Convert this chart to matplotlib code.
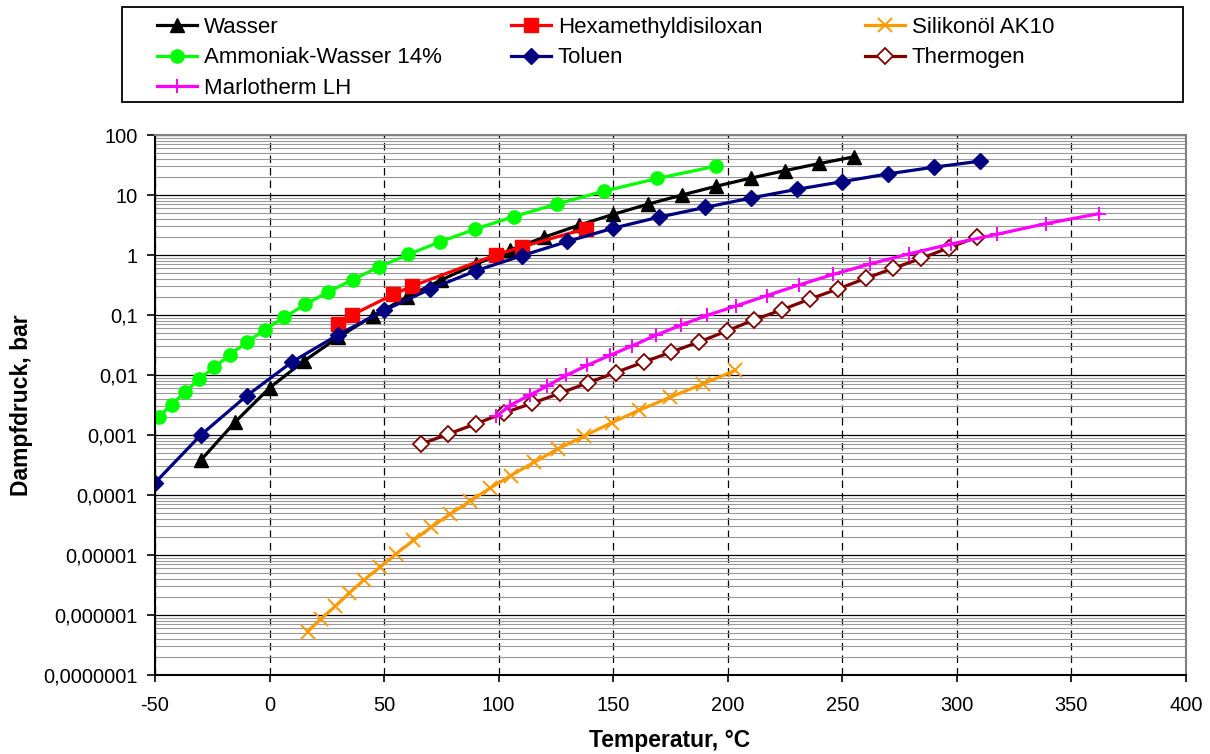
import matplotlib
matplotlib.use("Agg")
from matplotlib import pyplot as plt
from matplotlib.patches import Rectangle
import matplotlib.ticker as ticker

plt.rcParams['font.family'] = ['Liberation Sans', 'DejaVu Sans']
plt.rcParams['axes.unicode_minus'] = False

# vapour pressure data, T in degC, p in bar
wasser_T = [-30, -15, 0, 15, 30, 45, 60, 75, 90, 105, 120, 135, 150, 165, 180, 195, 210, 225, 240, 255]
wasser_p = [0.00038, 0.00165, 0.0061, 0.0171, 0.0425, 0.0959, 0.1995, 0.386, 0.702, 1.21,
            1.99, 3.13, 4.76, 7.0, 10.0, 14.0, 19.1, 25.5, 33.5, 43.2]

hexa_T = [30, 36, 54, 62, 99, 110, 138]
hexa_p = [0.070, 0.10, 0.22, 0.30, 1.01, 1.36, 2.75]

silikon_T = [16.6, 22.4, 28.7, 34.8, 41.4, 48.3, 55.2, 62.8, 70.6, 78.6, 87.3, 96.1, 105.2,
             115.5, 126, 137.3, 149.3, 161.4, 174.8, 189.1, 203.1]
silikon_p = [5.3e-7, 8.6e-7, 1.4e-6, 2.33e-6, 3.9e-6, 6.3e-6, 1.05e-5, 1.75e-5, 2.92e-5, 4.75e-5,
             7.8e-5, 1.29e-4, 2.1e-4, 3.52e-4, 5.9e-4, 9.6e-4, 1.6e-3, 2.6e-3, 4.25e-3, 7.1e-3, 0.0119]

ammoniak_T = [-48.3, -42.7, -36.9, -30.8, -24.1, -17.3, -9.9, -1.9, 6.4, 15.6, 25.5, 36.3, 47.8,
              60.6, 74.4, 89.8, 106.6, 125.4, 146, 169.3, 195]
ammoniak_p = [0.00203, 0.00322, 0.00518, 0.00855, 0.0134, 0.0218, 0.0356, 0.0573, 0.092, 0.150,
              0.241, 0.388, 0.635, 1.02, 1.66, 2.70, 4.37, 7.08, 11.6, 18.9, 30.3]

toluen_T = [-50, -30, -10, 10, 30, 50, 70, 90, 110, 130, 150, 170, 190, 210, 230, 250, 270, 290, 310]
toluen_p = [1.6e-4, 0.00100, 0.0045, 0.0167, 0.047, 0.119, 0.27, 0.545, 0.97, 1.68, 2.80, 4.28,
            6.2, 8.9, 12.4, 16.7, 22.5, 29.1, 36.6]

thermogen_T = [65.9, 78.1, 90.3, 102.3, 114.6, 126.7, 138.9, 151, 163.3, 175.4, 187.5, 199.7,
               211.6, 223.8, 235.9, 248, 260.2, 272.3, 284.4, 296.6, 308.8]
thermogen_p = [7.0e-4, 1.04e-3, 1.55e-3, 2.33e-3, 3.38e-3, 4.95e-3, 7.4e-3, 0.0110, 0.0164, 0.0242,
               0.0356, 0.0543, 0.0835, 0.123, 0.185, 0.271, 0.408, 0.60, 0.88, 1.32, 2.0]

marlotherm_T = [99, 104.8, 113.5, 121.3, 129.5, 138.7, 148.5, 158.2, 168.6, 179.5, 191.1, 203.5,
                217, 231, 246.1, 262.1, 279.3, 297.3, 317.4, 338.8, 362.1]
marlotherm_p = [0.00204, 0.0031, 0.0046, 0.0066, 0.0099, 0.0145, 0.0213, 0.0305, 0.046, 0.0676,
                0.099, 0.141, 0.21, 0.316, 0.476, 0.708, 1.05, 1.52, 2.21, 3.33, 4.89]

y_ticks = [1e-7, 1e-6, 1e-5, 1e-4, 1e-3, 1e-2, 1e-1, 1, 10, 100]
y_ticklabels = ["0,0000001", "0,000001", "0,00001", "0,0001", "0,001", "0,01", "0,1", "1", "10", "100"]
x_ticks = [-50, 0, 50, 100, 150, 200, 250, 300, 350, 400]

W, H = 1210, 754
fig = plt.figure(figsize=(W / 100, H / 100), dpi=100)
ax = fig.add_axes([155 / W, 1 - 675 / H, (1186 - 155) / W, 540 / H])

lw = 2.3
ln_wasser, = ax.plot(wasser_T, wasser_p, color='black', lw=lw, marker='^', ms=9.5, label='Wasser')
ln_hexa, = ax.plot(hexa_T, hexa_p, color='#ff0000', lw=lw, marker='s', ms=9.5, label='Hexamethyldisiloxan')
ln_sil, = ax.plot(silikon_T, silikon_p, color='#ff9900', lw=lw, marker='x', ms=9.5, mew=1.4,
                  label='Silikonöl AK10')
ln_amm, = ax.plot(ammoniak_T, ammoniak_p, color='#00ff00', lw=lw, marker='o', ms=9.5,
                  label='Ammoniak-Wasser 14%')
ln_tol, = ax.plot(toluen_T, toluen_p, color='#000080', lw=lw, marker='D', ms=8, label='Toluen')
ln_therm, = ax.plot(thermogen_T, thermogen_p, color='#800000', lw=lw, marker='D', ms=8,
                    mfc='white', mec='#800000', mew=1.3, label='Thermogen')
ln_marl, = ax.plot(marlotherm_T, marlotherm_p, color='#ff00ff', lw=lw, marker='+', ms=10, mew=1.4,
                   label='Marlotherm LH')

ax.set_yscale('log')
ax.set_ylim(1e-7, 100)
ax.set_xlim(-50, 400)
ax.xaxis.set_major_locator(ticker.FixedLocator(x_ticks))
ax.yaxis.set_major_locator(ticker.FixedLocator(y_ticks))
ax.yaxis.set_major_formatter(ticker.FixedFormatter(y_ticklabels))
ax.yaxis.set_minor_locator(ticker.LogLocator(base=10, subs=range(2, 10), numticks=50))
ax.yaxis.set_minor_formatter(ticker.NullFormatter())

ax.grid(True, which='minor', axis='y', color='#999999', lw=0.8)
ax.grid(True, which='major', axis='y', color='black', lw=0.9)
ax.grid(True, which='major', axis='x', color='black', lw=0.9, linestyle=(0, (6, 4)))
ax.set_axisbelow(True)

ax.tick_params(axis='y', which='minor', length=0)
ax.tick_params(axis='y', which='major', direction='out', length=6, width=1.2, pad=6.5, labelsize=14.4)
ax.tick_params(axis='x', which='major', direction='out', length=5, width=1.2, pad=10, labelsize=14.4)

for s in ['left', 'bottom']:
    ax.spines[s].set_color('black')
    ax.spines[s].set_linewidth(1.5)
for s in ['top', 'right']:
    ax.spines[s].set_color('#808080')
    ax.spines[s].set_linewidth(1.5)

fig.text(22 / W, 1 - 405 / H, "Dampfdruck, bar", rotation=90, ha='center', va='center',
         fontsize=16.5, fontweight='bold')
fig.text(670 / W, 1 - 747 / H, "Temperatur, °C", ha='center', va='baseline',
         fontsize=16.5, fontweight='bold')

# legend box drawn as in Excel: three fixed columns inside one frame
fig.patches.append(Rectangle((122 / W, 1 - 102 / H), (1183 - 122) / W, 95 / H,
                             transform=fig.transFigure, fill=False, edgecolor='black', lw=1.3))
columns = [([ln_wasser, ln_amm, ln_marl], 157),
           ([ln_hexa, ln_tol], 511),
           ([ln_sil, ln_therm], 865)]
for handles, xpix in columns:
    fig.legend(handles=handles, loc='upper left', bbox_to_anchor=(xpix / W, 1 - 17 / H),
               frameon=False, borderpad=0, borderaxespad=0, fontsize=16,
               handlelength=1.82, handletextpad=0.28, labelspacing=0.42)

plt.savefig('out.png', dpi=100)
